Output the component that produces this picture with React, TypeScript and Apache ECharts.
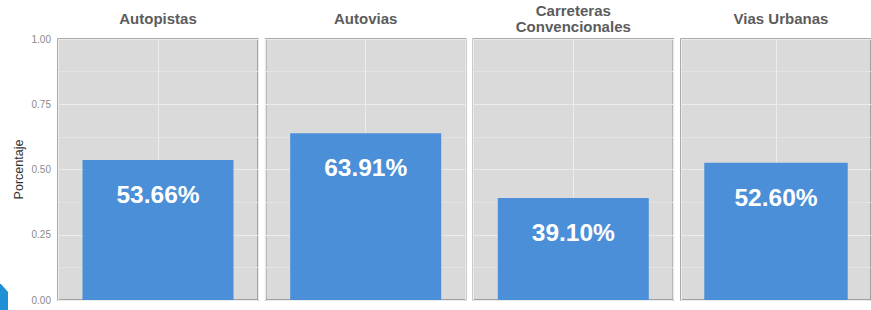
import React, { useEffect, useRef } from "react";
import * as echarts from "echarts";

const categories: string[] = ["Autopistas", "Autovias", "Carreteras\nConvencionales", "Vias Urbanas"];
const values: number[] = [0.5366, 0.6391, 0.391, 0.526];
const yTicks: number[] = [0, 0.25, 0.5, 0.75, 1];

const FONT = "'Liberation Sans', Arial, Helvetica, sans-serif";

export default function App() {
  const ref = useRef<HTMLDivElement>(null);
  useEffect(() => {
    if (!ref.current) return;
    const chart = echarts.init(ref.current, null, { renderer: "svg" });
    const lefts = [58, 265.7, 473.3, 681];
    const W = 200;
    const grids: any[] = [];
    const xAxes: any[] = [];
    const yAxes: any[] = [];
    const series: any[] = [];
    const titles: any[] = [];
    categories.forEach((cat, i) => {
      grids.push({
        left: lefts[i],
        top: 39,
        width: W,
        height: 261,
        show: true,
        backgroundColor: "#dadada",
        borderColor: "#8e8e8e",
        borderWidth: 1.5,
        containLabel: false,
      });
      // category axis for the bar
      xAxes.push({
        type: "category",
        gridIndex: i,
        data: [cat],
        axisLine: { show: false },
        axisTick: { show: false },
        axisLabel: { show: false },
        splitLine: { show: false },
      });
      // helper axis for the vertical center gridline
      xAxes.push({
        type: "value",
        gridIndex: i,
        min: 0,
        max: 2,
        interval: 1,
        axisLine: { show: false },
        axisTick: { show: false },
        axisLabel: { show: false },
        splitLine: { show: true, lineStyle: { color: "#ececec", width: 1 } },
      });
      yAxes.push({
        type: "value",
        gridIndex: i,
        min: yTicks[0],
        max: yTicks[yTicks.length - 1],
        interval: 0.25,
        name: i === 0 ? "Porcentaje" : "",
        nameLocation: "middle",
        nameGap: 33,
        nameTextStyle: { color: "#333", fontSize: 12.5, fontFamily: FONT },
        axisLine: { show: false },
        axisTick: { show: false },
        axisLabel: {
          show: i === 0,
          color: "#8a8a8a",
          fontSize: 10,
          fontFamily: FONT,
          margin: 7,
          formatter: (v: number) => v.toFixed(2),
        },
        splitLine: { show: true, lineStyle: { color: "#ececec", width: 1 } },
        minorTick: { show: false, splitNumber: 2 },
        minorSplitLine: { show: true, lineStyle: { color: "#e3e3e3", width: 1 } },
      });
      series.push({
        type: "bar",
        xAxisIndex: i * 2,
        yAxisIndex: i,
        data: [values[i]],
        barWidth: "75.5%",
        itemStyle: { color: "#4a8fd8" },
        label: {
          show: true,
          position: "insideTop",
          distance: 22,
          color: "#ffffff",
          fontSize: 24.5,
          fontWeight: "bold",
          fontFamily: FONT,
          formatter: (p: any) => (p.value * 100).toFixed(2) + "%",
        },
      });
      const twoLine = cat.includes("\n");
      titles.push({
        text: cat,
        left: lefts[i] + W / 2,
        top: twoLine ? 2 : 10.5,
        padding: 0,
        textAlign: "center",
        textStyle: {
          color: "#5c5c5c",
          fontSize: 15,
          fontWeight: "bold",
          fontFamily: FONT,
          lineHeight: 16,
        },
      });
    });
    chart.setOption({
      animation: false,
      backgroundColor: "#ffffff",
      title: titles,
      grid: grids,
      xAxis: xAxes,
      yAxis: yAxes,
      series,
      graphic: [
        {
          type: "polygon",
          shape: { points: [[0, 284], [1, 284], [8, 292], [8, 310], [0, 310]] },
          style: { fill: "#1f8fd6" },
        },
      ],
    });
    return () => chart.dispose();
  }, []);
  return (
    <div
      ref={ref}
      style={{ position: "absolute", left: 0, top: 0, width: 871, height: 310 }}
    />
  );
}
